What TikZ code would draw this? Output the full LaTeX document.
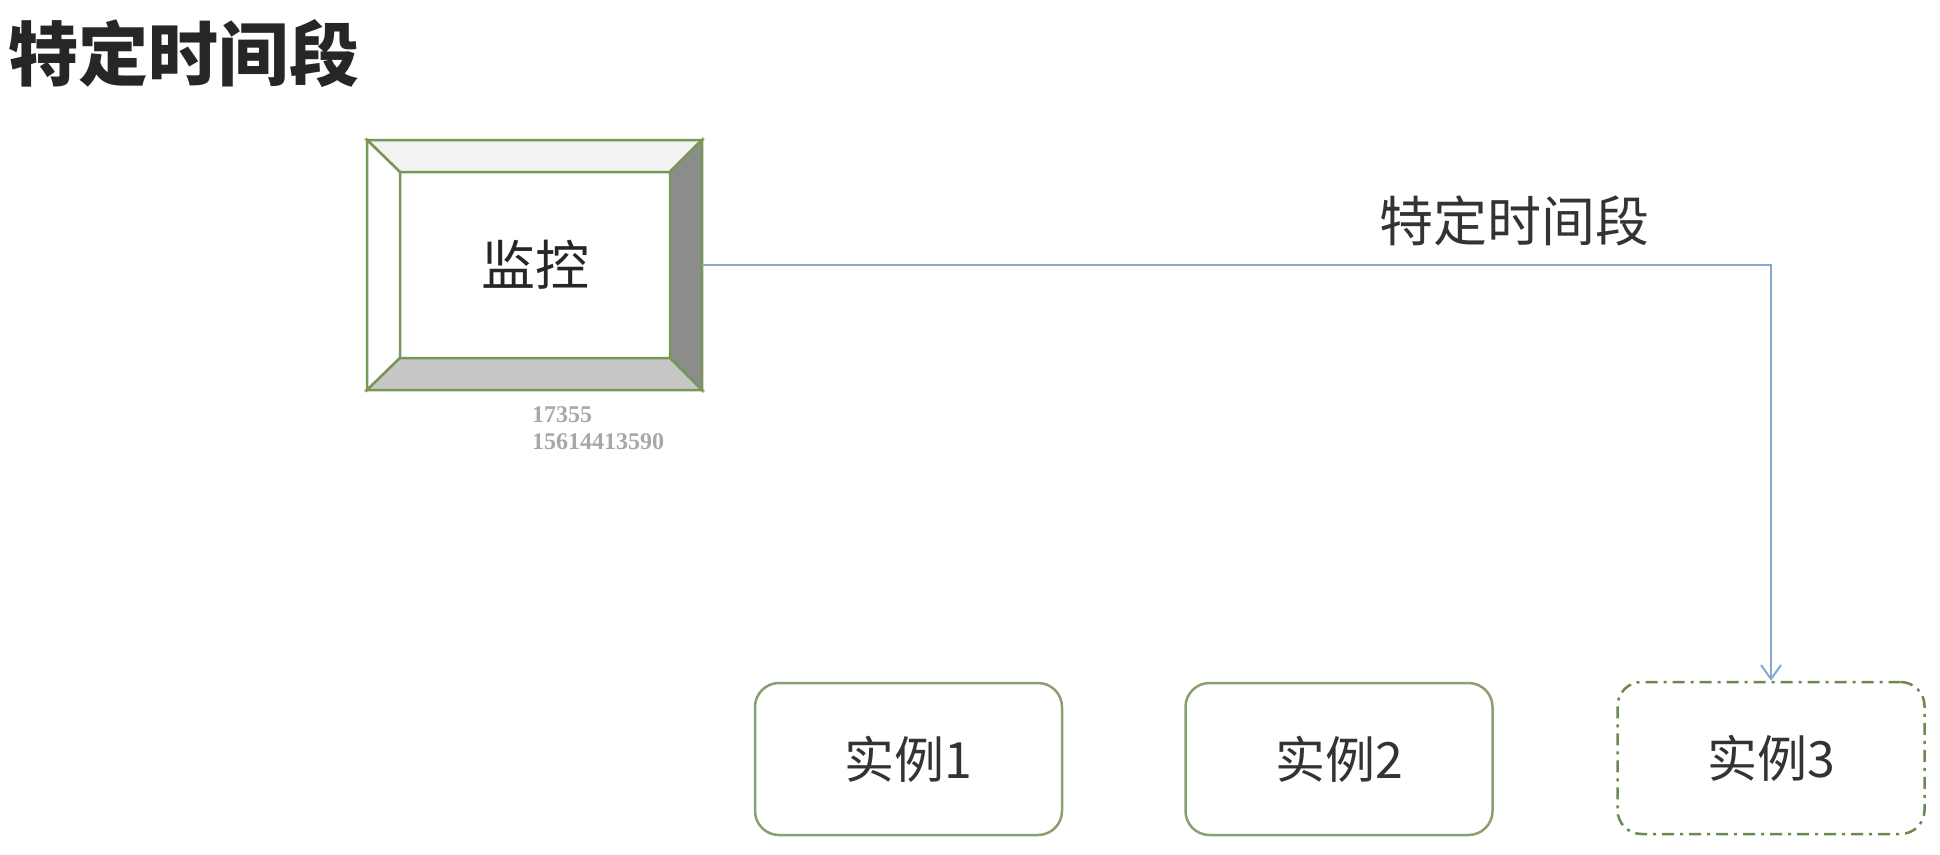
\documentclass[tikz,border=0pt]{standalone}
\usepackage{fontspec}
\newfontfamily\cjk{Noto Sans CJK SC}
\newfontfamily\numserif{Liberation Serif}
\usetikzlibrary{arrows.meta}
\definecolor{boxgreen}{HTML}{8AA070}
\definecolor{bevgreen}{HTML}{789858}
\definecolor{dashgreen}{HTML}{6A8A50}
\definecolor{linkblue}{HTML}{86A8D0}
\definecolor{numgrey}{HTML}{A8A8A8}
\tikzset{
  inst/.style={draw=boxgreen, line width=2.5pt, rounded corners=24pt, minimum width=307pt, minimum height=152pt, inner sep=0pt,
    font=\cjk\fontsize{50}{56}\selectfont, text=black!80},
  instdash/.style={inst, draw=dashgreen, dash pattern=on 12pt off 6pt on 3pt off 6pt},
  link/.style={draw=linkblue, line width=2pt, -{Straight Barb[length=14pt,width=20pt,line width=2pt]}},
  bev/.style={draw=bevgreen, line width=2.5pt, line join=miter},
  numtxt/.style={anchor=base west, inner sep=0pt, text=numgrey, font=\numserif\bfseries\fontsize{24}{26}\selectfont}
}
\begin{document}
\begin{tikzpicture}[x=1pt,y=-1pt]
\fill[white] (0,0) rectangle (1940,854);
\useasboundingbox (0,0) rectangle (1940,854);
% title
\node[inner sep=0pt, font=\cjk\bfseries\fontsize{70}{76}\selectfont, text=black!85] (title) at (184,54) {特定时间段};
% bevel box
\node[minimum width=335pt, minimum height=250pt, inner sep=0pt] (mon) at (534.5,265) {};
\filldraw[bev, fill=black!5] (367,140) -- (702,140) -- (670,172) -- (400,172) -- cycle;
\filldraw[bev, fill=white] (367,140) -- (400,172) -- (400,358) -- (367,390) -- cycle;
\filldraw[bev, fill=black!45] (702,140) -- (702,390) -- (670,358) -- (670,172) -- cycle;
\filldraw[bev, fill=black!22] (367,390) -- (702,390) -- (670,358) -- (400,358) -- cycle;
\node[inner sep=0pt, font=\cjk\fontsize{54}{60}\selectfont, text=black!85] (montxt) at (535,265) {监控};
% numbers
\node[numtxt] (n1) at (532,422) {17355};
\node[numtxt] (n2) at (532,449) {15614413590};
% instances
\node[inst] (i1) at (908.5,759) {实例1};
\node[inst] (i2) at (1339,759) {实例2};
\node[instdash] (i3) at (1771,758) {实例3};
% link
\draw[link] (mon.east) -| (i3.north);
\node[inner sep=0pt, font=\cjk\fontsize{54}{60}\selectfont, text=black!80] (lbl) at (1514,221) {特定时间段};
\end{tikzpicture}
\end{document}
